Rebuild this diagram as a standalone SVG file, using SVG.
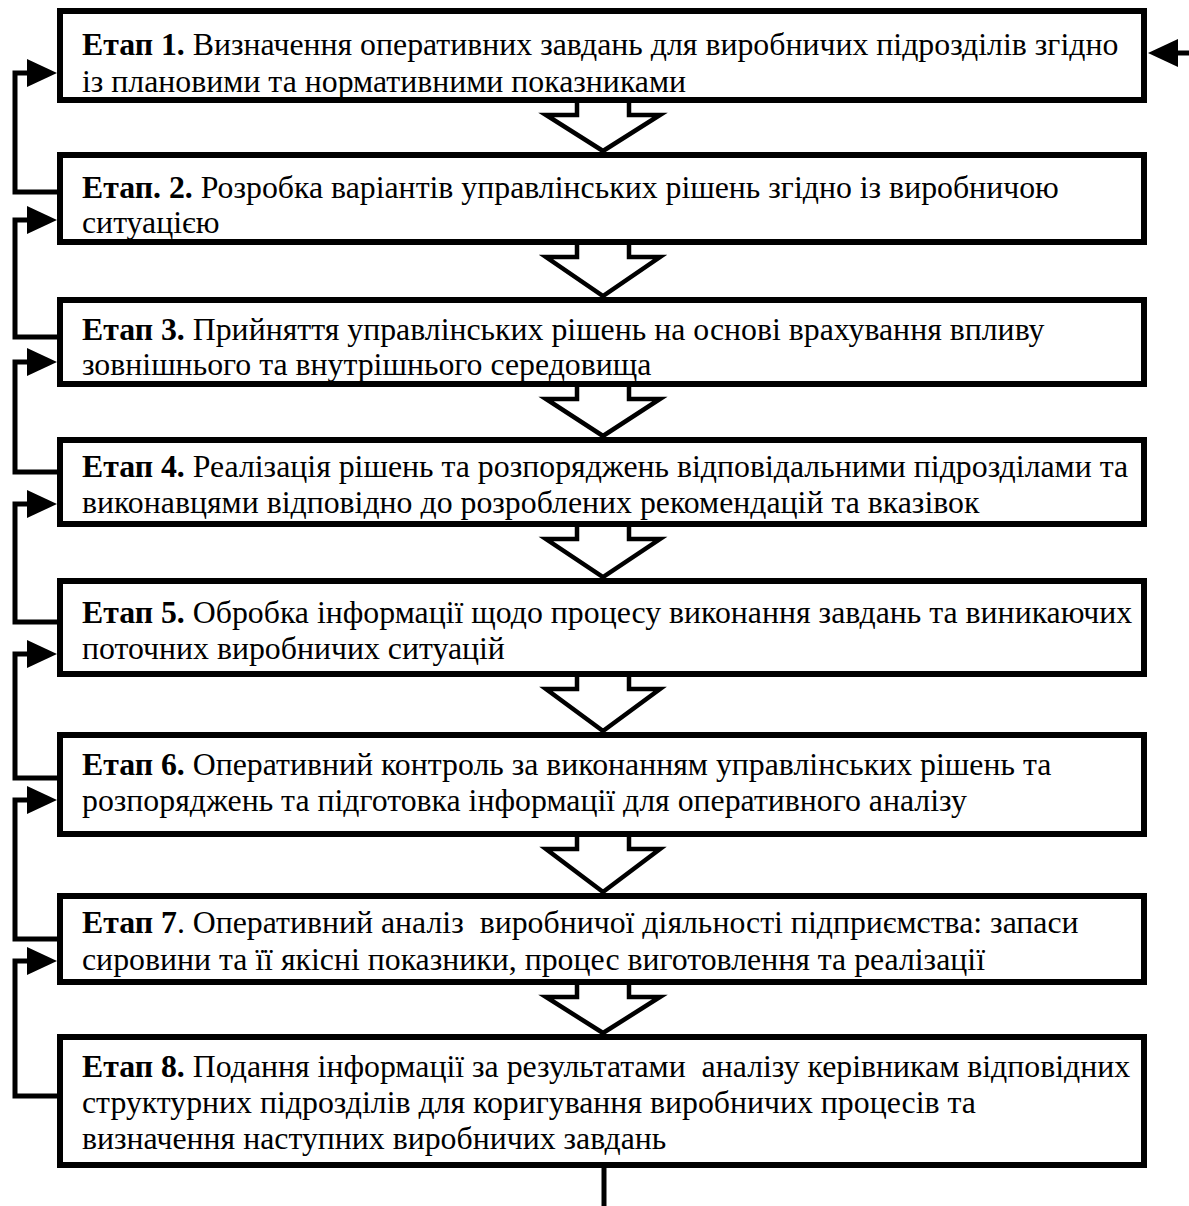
<svg xmlns="http://www.w3.org/2000/svg" width="1189" height="1206" viewBox="0 0 1189 1206">
<style>
.box{fill:#fff;stroke:#000;stroke-width:6}
.t{font-family:"Liberation Serif","Times New Roman",serif;font-size:31.8px;fill:#000;white-space:pre}
.b{font-weight:bold}
.con{fill:none;stroke:#000;stroke-width:5;stroke-linejoin:miter}
.hol{fill:none;stroke:#000;stroke-width:4.5;stroke-linejoin:miter}
</style>
<defs>
<marker id="ah" markerUnits="userSpaceOnUse" markerWidth="30" markerHeight="28" refX="13" refY="14" orient="auto">
<path d="M0,0 L30,14 L0,28 z" fill="#000"/>
</marker>
</defs>
<rect width="1189" height="1206" fill="#fff"/>
<g id="connectors">
<path class="hol" d="M577,100 V115 H546 L603,151 L660,115 H629 V100"/>
<path class="hol" d="M577,242 V257 H546 L603,296 L660,257 H629 V242"/>
<path class="hol" d="M577,384 V399 H546 L603,436 L660,399 H629 V384"/>
<path class="hol" d="M577,524 V539 H546 L603,577 L660,539 H629 V524"/>
<path class="hol" d="M577,674 V689 H546 L603,731 L660,689 H629 V674"/>
<path class="hol" d="M577,834 V849 H546 L603,892 L660,849 H629 V834"/>
<path class="hol" d="M577,982 V997 H546 L603,1033 L660,997 H629 V982"/>
<path class="con" d="M57,192 H15 V73 H40" marker-end="url(#ah)"/>
<path class="con" d="M57,337 H15 V220 H40" marker-end="url(#ah)"/>
<path class="con" d="M57,472 H15 V362 H40" marker-end="url(#ah)"/>
<path class="con" d="M57,622 H15 V504 H40" marker-end="url(#ah)"/>
<path class="con" d="M57,778 H15 V654 H40" marker-end="url(#ah)"/>
<path class="con" d="M57,939 H15 V800 H40" marker-end="url(#ah)"/>
<path class="con" d="M57,1096 H15 V961 H40" marker-end="url(#ah)"/>
<path class="con" d="M1189,53 H1165" marker-end="url(#ah)"/>
<path class="con" d="M604,1168 V1206"/>
</g>
<g id="stage1">
<rect class="box" x="60" y="11" width="1084" height="89"/>
<text class="t" x="82" y="55"><tspan class="b">Етап 1.</tspan> Визначення оперативних завдань для виробничих підрозділів згідно</text>
<text class="t" x="82" y="92">із плановими та нормативними показниками</text>
</g>
<g id="stage2">
<rect class="box" x="60" y="155" width="1084" height="87"/>
<text class="t" x="82" y="198"><tspan class="b">Етап. 2.</tspan> Розробка варіантів управлінських рішень згідно із виробничою</text>
<text class="t" x="82" y="233">ситуацією</text>
</g>
<g id="stage3">
<rect class="box" x="60" y="300" width="1084" height="84"/>
<text class="t" x="82" y="340"><tspan class="b">Етап 3.</tspan> Прийняття управлінських рішень на основі врахування впливу</text>
<text class="t" x="82" y="375">зовнішнього та внутрішнього середовища</text>
</g>
<g id="stage4">
<rect class="box" x="60" y="440" width="1084" height="84"/>
<text class="t" x="82" y="477"><tspan class="b">Етап 4.</tspan> Реалізація рішень та розпоряджень відповідальними підрозділами та</text>
<text class="t" x="82" y="513">виконавцями відповідно до розроблених рекомендацій та вказівок</text>
</g>
<g id="stage5">
<rect class="box" x="60" y="581" width="1084" height="93"/>
<text class="t" x="82" y="623"><tspan class="b">Етап 5.</tspan> Обробка інформації щодо процесу виконання завдань та виникаючих</text>
<text class="t" x="82" y="659">поточних виробничих ситуацій</text>
</g>
<g id="stage6">
<rect class="box" x="60" y="735" width="1084" height="99"/>
<text class="t" x="82" y="775"><tspan class="b">Етап 6.</tspan> Оперативний контроль за виконанням управлінських рішень та</text>
<text class="t" x="82" y="811">розпоряджень та підготовка інформації для оперативного аналізу</text>
</g>
<g id="stage7">
<rect class="box" x="60" y="896" width="1084" height="86"/>
<text class="t" x="82" y="933"><tspan class="b">Етап 7</tspan>. Оперативний аналіз  виробничої діяльності підприємства: запаси</text>
<text class="t" x="82" y="970">сировини та її якісні показники, процес виготовлення та реалізації</text>
</g>
<g id="stage8">
<rect class="box" x="60" y="1037" width="1084" height="128"/>
<text class="t" x="82" y="1077"><tspan class="b">Етап 8.</tspan> Подання інформації за результатами  аналізу керівникам відповідних</text>
<text class="t" x="82" y="1113">структурних підрозділів для коригування виробничих процесів та</text>
<text class="t" x="82" y="1149">визначення наступних виробничих завдань</text>
</g>
</svg>
